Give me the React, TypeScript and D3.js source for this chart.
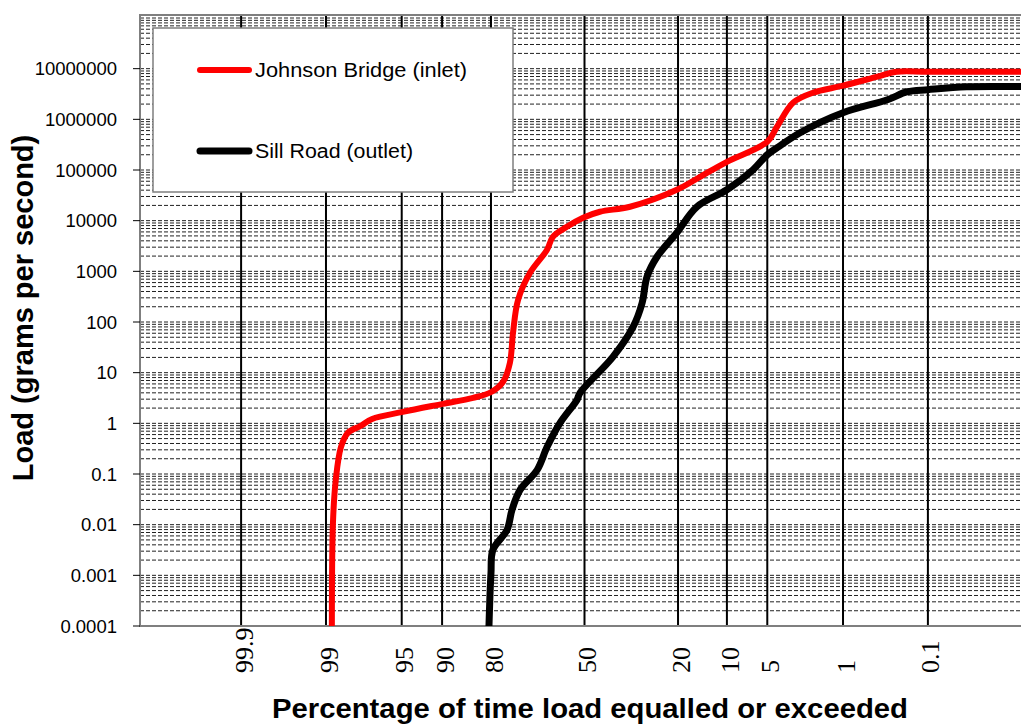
import React from 'react'
import * as d3 from 'd3'

// percent of time exceeded / load (g/s)
const johnsonPct = [98.85, 98.82, 98.74, 98.58, 98.34, 97.8, 97.2, 94.9, 89.9, 84.2, 79.8, 76.8, 74.9, 74.0, 72.5, 68.8, 63.2, 61.2, 56.3, 50.5, 44.5, 34.1, 20.3, 14.9, 10.0, 5.0, 4.16, 3.03, 1.99, 1.0, 0.42, 0.25, 0.1, 0.003]
const johnsonLoad = [0.0001, 0.011, 0.076, 0.34, 0.65, 0.89, 1.22, 1.68, 2.42, 3.18, 4.2, 6.6, 15.6, 61, 274, 935, 2660, 4800, 7570, 11400, 15000, 18800, 40700, 73500, 145000, 361000, 714000, 2130000, 3350000, 4610000, 6940000, 8700000, 8700000, 8700000]

const sillPct = [80.5, 80.0, 79.5, 75.7, 74.3, 71.9, 66.5, 63.2, 58.7, 52.7, 51.6, 39.9, 33.1, 30.2, 28.7, 25.7, 20.3, 15.6, 10.0, 6.47, 5.0, 3.93, 2.62, 1.0, 0.32, 0.185, 0.1, 0.029, 0.003]
const sillLoad = [0.0001, 0.0011, 0.0032, 0.0079, 0.0195, 0.0485, 0.12, 0.34, 1.02, 2.9, 4.0, 20.5, 80, 239, 780, 1940, 5770, 18800, 40700, 101000, 200000, 300000, 543000, 1350000, 2440000, 3500000, 3850000, 4400000, 4400000]

const xTickLabels = [99.9, 99, 95, 90, 80, 50, 20, 10, 5, 1, 0.1]
const yTickValues = [0.0001, 0.001, 0.01, 0.1, 1, 10, 100, 1000, 10000, 100000, 1000000, 10000000]
const minorSteps = [1, 2, 3, 4, 5, 6, 7, 8, 9]

const seriesNames = ['Johnson Bridge (inlet)', 'Sill Road (outlet)']

// inverse normal cdf (Acklam approximation)
function probit(p: number) {
  const a = [-39.69683028665376, 220.9460984245205, -275.9285104469687, 138.357751867269, -30.66479806614716, 2.506628277459239]
  const b = [-54.47609879822406, 161.5858368580409, -155.6989798598866, 66.80131188771972, -13.28068155288572]
  const c = [-0.007784894002430293, -0.3223964580411365, -2.400758277161838, -2.549671010283694, 4.374664141464968, 2.938163982698783]
  const d = [0.007784695709041462, 0.3224671290700398, 2.445134137142996, 3.754408661907416]
  const plow = 0.02425
  if (p < plow) {
    const q = Math.sqrt(-2 * Math.log(p))
    return (((((c[0] * q + c[1]) * q + c[2]) * q + c[3]) * q + c[4]) * q + c[5]) / ((((d[0] * q + d[1]) * q + d[2]) * q + d[3]) * q + 1)
  }
  if (p <= 1 - plow) {
    const q = p - 0.5
    const r = q * q
    return (((((a[0] * r + a[1]) * r + a[2]) * r + a[3]) * r + a[4]) * r + a[5]) * q / (((((b[0] * r + b[1]) * r + b[2]) * r + b[3]) * r + b[4]) * r + 1)
  }
  const q = Math.sqrt(-2 * Math.log(1 - p))
  return -(((((c[0] * q + c[1]) * q + c[2]) * q + c[3]) * q + c[4]) * q + c[5]) / ((((d[0] * q + d[1]) * q + d[2]) * q + d[3]) * q + 1)
}

const W = 1021
const H = 724
const left = 140, top = 15, right = 1021, bottom = 626

export default function App() {
  const z = d3.scaleLinear().domain([-4, 4]).range([left, 1029])
  const x = (pct: number) => z(probit(1 - pct / 100))
  const y = d3.scaleLog().domain([1e-4, 1e8]).range([bottom, 18])

  const line = d3.line<[number, number]>()
    .x(d => x(d[0]))
    .y(d => y(d[1]))
    .curve(d3.curveCatmullRom.alpha(0.5))

  const johnson = johnsonPct.map((p, i) => [p, johnsonLoad[i]] as [number, number])
  const sill = sillPct.map((p, i) => [p, sillLoad[i]] as [number, number])

  // dashed grid at 1..9 x each decade, plus the top decade
  const gridValues = yTickValues.concat([1e8]).flatMap(dec => dec === 1e8 ? [dec] : minorSteps.map(k => k * dec))

  const sans = 'Arial, "Liberation Sans", sans-serif'
  const serif = '"Times New Roman", "Liberation Serif", serif'

  return (
    <svg width={W} height={H} style={{ position: 'absolute', left: 0, top: 0, background: '#fff' }}>
      <defs>
        <clipPath id="plotClip">
          <rect x={left} y={top} width={right - left} height={bottom - top} />
        </clipPath>
      </defs>
      <rect x={0} y={0} width={W} height={H} fill="#fff" />

      {/* horizontal dashed grid */}
      <g clipPath="url(#plotClip)">
        {gridValues.map((v, i) => (
          <line key={'g' + i} x1={left} x2={right} y1={y(v)} y2={y(v)}
            stroke="#222" strokeWidth={1} strokeDasharray="4 2" />
        ))}
        {xTickLabels.map(p => (
          <line key={'v' + p} x1={x(p)} x2={x(p)} y1={top} y2={bottom} stroke="#000" strokeWidth={2} />
        ))}
      </g>

      {/* plot border */}
      <rect x={left} y={top} width={right - left + 4} height={bottom - top} fill="none" stroke="#7f7f7f" strokeWidth={2} />

      {/* y axis ticks and labels */}
      {yTickValues.map(v => (
        <g key={'y' + v}>
          <line x1={left - 7} x2={left} y1={y(v)} y2={y(v)} stroke="#000" strokeWidth={1} />
          <text x={117} y={y(v)} dy="0.36em" textAnchor="end" fontFamily={sans} fontSize={18.5} fill="#000">
            {String(v)}
          </text>
        </g>
      ))}

      {/* x tick labels */}
      {xTickLabels.map(p => (
        <text key={'xl' + p} transform={`translate(${x(p) + 3},673) rotate(-90)`} dy="0.33em"
          textAnchor="start" fontFamily={serif} fontSize={26} fill="#000">
          {String(p)}
        </text>
      ))}

      {/* series */}
      <g clipPath="url(#plotClip)">
        <path d={line(johnson) || ''} fill="none" stroke="#ff0000" strokeWidth={6} strokeLinejoin="round" />
        <path d={line(sill) || ''} fill="none" stroke="#000" strokeWidth={7} strokeLinejoin="round" />
      </g>

      {/* legend */}
      <rect x={153} y={28} width={360} height={164} fill="#fff" stroke="#7f7f7f" strokeWidth={1.5} />
      <line x1={200} x2={249} y1={70} y2={70} stroke="#ff0000" strokeWidth={6} strokeLinecap="round" />
      <text x={255} y={77} fontFamily={sans} fontSize={20} textLength={212} lengthAdjust="spacingAndGlyphs">{seriesNames[0]}</text>
      <line x1={200} x2={249} y1={151} y2={151} stroke="#000" strokeWidth={7} strokeLinecap="round" />
      <text x={255} y={158} fontFamily={sans} fontSize={20} textLength={158} lengthAdjust="spacingAndGlyphs">{seriesNames[1]}</text>

      {/* axis titles */}
      <text transform="translate(33,308) rotate(-90)" textAnchor="middle" fontFamily={sans} fontWeight="bold" fontSize={29}>
        Load (grams per second)
      </text>
      <text x={590} y={718} textAnchor="middle" fontFamily={sans} fontWeight="bold" fontSize={27} textLength={636} lengthAdjust="spacingAndGlyphs">
        Percentage of time load equalled or exceeded
      </text>
    </svg>
  )
}
